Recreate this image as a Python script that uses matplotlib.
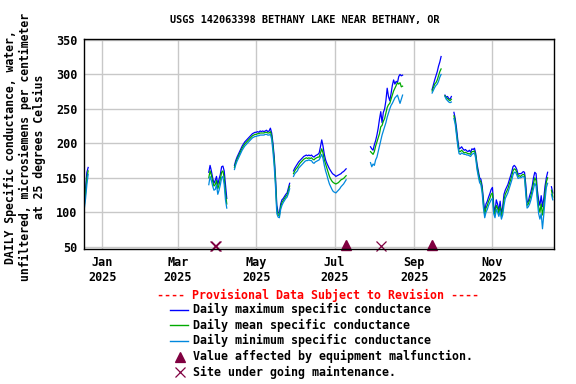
import numpy as np
import pandas as pd
import matplotlib
matplotlib.use("Agg")
import matplotlib.pyplot as plt
import matplotlib.dates as mdates
from matplotlib.lines import Line2D
from datetime import datetime

# daily records, one list per unbroken stretch of data
seg_start = ["2024-12-18", "2025-03-25", "2025-04-14", "2025-05-30",
             "2025-07-29", "2025-09-15", "2025-09-25", "2025-10-02", "2025-12-17"]

daily_max = [
    [115, 135, 158, 165],
    [158, 168, 160, 150, 142, 146, 152, 140, 148, 155, 166, 167, 160, 140, 120],
    [168, 175, 180, 184, 188, 192, 196, 199, 202, 204, 206, 208, 210, 212, 214, 215,
     216, 216, 217, 216, 218, 217, 218, 217, 218, 219, 217, 218, 222, 215, 200, 180,
     150, 110, 100, 98, 112, 118, 120, 123, 126, 128, 135, 142],
    [160, 164, 167, 170, 173, 175, 177, 179, 181, 182, 183, 182, 183, 182, 183, 181,
     180, 182, 183, 184, 186, 195, 205, 196, 184, 176, 171, 167, 163, 160, 157, 155,
     154, 152, 153, 154, 155, 156, 158, 159, 161, 163],
    [195, 192, 190, 198, 204, 212, 222, 235, 246, 230, 245, 250, 262, 280, 268, 262,
     272, 284, 292, 286, 290, 288, 297, 300, 298, 299],
    [278, 285, 292, 298, 304, 312, 318, 326],
    [270, 267, 268, 265, 264, 268],
    [245, 236, 222, 205, 192, 193, 195, 192, 190, 191, 189, 188, 190, 187, 192, 191,
     193, 185, 170, 160, 150, 148, 138, 118, 100, 112, 116, 122, 127, 133, 136, 110,
     100, 118, 112, 102, 116, 98, 108, 126, 132, 136, 140, 146, 152, 158, 166, 168,
     166, 162, 155, 156, 156, 157, 159, 158, 140, 114, 116, 124, 130, 138, 150, 158,
     156, 132, 118, 110, 124, 108, 120, 138, 150, 158],
    [137, 128],
]

daily_mean = [
    [110, 128, 150, 160],
    [150, 160, 154, 145, 138, 140, 146, 134, 140, 148, 158, 160, 150, 128, 112],
    [165, 172, 177, 181, 185, 189, 193, 196, 199, 201, 203, 205, 207, 209, 211, 212,
     213, 213, 214, 214, 215, 215, 215, 215, 216, 216, 215, 215, 217, 211, 195, 174,
     144, 104, 96, 95, 108, 114, 117, 120, 123, 125, 131, 138],
    [156, 160, 163, 165, 168, 171, 173, 175, 177, 178, 179, 178, 179, 178, 179, 177,
     176, 178, 179, 180, 180, 186, 192, 186, 176, 170, 164, 158, 152, 148, 145, 143,
     142, 141, 142, 143, 145, 147, 148, 149, 151, 153],
    [188, 186, 184, 188, 196, 202, 208, 214, 224, 226, 232, 236, 244, 252, 256, 258,
     264, 270, 276, 280, 284, 288, 286, 288, 282, 283],
    [276, 281, 286, 288, 292, 298, 304, 308],
    [269, 266, 265, 263, 262, 264],
    [240, 232, 216, 200, 188, 188, 190, 188, 186, 187, 186, 185, 185, 184, 188, 188,
     189, 182, 166, 156, 147, 144, 134, 112, 96, 106, 110, 116, 120, 126, 128, 104,
     96, 110, 106, 98, 108, 94, 102, 118, 126, 130, 134, 140, 146, 152, 160, 163,
     162, 158, 152, 153, 152, 154, 155, 154, 132, 110, 112, 118, 124, 132, 142, 150,
     146, 124, 108, 100, 112, 96, 108, 128, 144, 150],
    [132, 122],
]

daily_min = [
    [105, 120, 140, 155],
    [140, 152, 146, 138, 132, 133, 140, 126, 132, 140, 150, 152, 140, 118, 106],
    [162, 169, 174, 178, 182, 186, 190, 193, 196, 198, 200, 202, 204, 206, 208, 209,
     210, 210, 211, 211, 212, 212, 212, 212, 213, 213, 212, 212, 213, 206, 188, 166,
     136, 98, 93, 92, 104, 110, 114, 117, 120, 122, 127, 134],
    [152, 156, 158, 160, 164, 166, 168, 170, 172, 174, 175, 175, 176, 175, 175, 172,
     171, 173, 174, 175, 176, 180, 184, 178, 168, 160, 154, 147, 141, 137, 133, 130,
     129, 128, 130, 132, 134, 137, 139, 141, 144, 147],
    [172, 166, 170, 168, 176, 180, 188, 196, 204, 212, 218, 224, 230, 238, 244, 250,
     255, 258, 262, 266, 268, 270, 264, 258, 264, 270],
    [273, 277, 281, 284, 286, 290, 296, 300],
    [268, 264, 262, 260, 259, 260],
    [236, 228, 212, 196, 185, 184, 186, 185, 184, 184, 183, 183, 182, 181, 184, 185,
     186, 178, 162, 152, 143, 140, 128, 106, 92, 100, 104, 110, 114, 118, 120, 98,
     92, 104, 100, 94, 102, 90, 96, 110, 120, 124, 128, 134, 140, 146, 154, 158,
     158, 154, 149, 150, 150, 151, 152, 150, 126, 106, 108, 112, 118, 126, 134, 142,
     138, 116, 98, 90, 98, 76, 96, 118, 136, 142],
    [126, 118],
]

malfunction_dates = ["2025-07-10", "2025-09-15"]
maintenance_dates = ["2025-03-30", "2025-03-31", "2025-08-06"]

tick_dates = ["2025-01-01", "2025-03-01", "2025-05-01", "2025-07-01", "2025-09-01", "2025-11-01"]
tick_labels = ["Jan\n2025", "Mar\n2025", "May\n2025", "Jul\n2025", "Sep\n2025", "Nov\n2025"]
y_ticks = [50, 100, 150, 200, 250, 300, 350]

C_MAX = "#0000FF"
C_MEAN = "#00AA00"
C_MIN = "#0088DD"
C_MARK = "#800040"
FONT = "DejaVu Sans Mono"


def join_segments(segments):
    # concatenate stretches with a NaN between them so the line breaks
    xs, ys = [], []
    for start, vals in zip(seg_start, segments):
        d = pd.date_range(start, periods=len(vals), freq="D")
        xs.extend(list(d) + [d[-1] + pd.Timedelta(hours=12)])
        ys.extend(list(vals) + [np.nan])
    return xs, ys


fig = plt.figure(figsize=(5.76, 3.84), dpi=100)
ax = fig.add_axes([84.3 / 576, 1 - 249.3 / 384, 470 / 576, 210 / 384])

for series, col in [(daily_max, C_MAX), (daily_mean, C_MEAN), (daily_min, C_MIN)]:
    xs, ys = join_segments(series)
    ax.plot(xs, ys, color=col, lw=0.9)

ax.plot(pd.to_datetime(malfunction_dates), [52] * len(malfunction_dates),
        ls="none", marker="^", ms=7, color=C_MARK, clip_on=False)
ax.plot(pd.to_datetime(maintenance_dates), [50.5] * len(maintenance_dates),
        ls="none", marker="x", ms=6.5, mew=0.9, color=C_MARK, clip_on=False)

ax.set_xlim(datetime(2024, 12, 18), datetime(2025, 12, 19, 5))
ax.set_ylim(46.2, 351)
ax.set_xticks(pd.to_datetime(tick_dates))
ax.set_xticklabels(tick_labels)
ax.set_yticks(y_ticks)
ax.grid(True, color="#C8C8C8", lw=1.0)
ax.set_axisbelow(True)
ax.tick_params(length=0, pad=5, labelsize=8.5)
for lab in ax.get_xticklabels() + ax.get_yticklabels():
    lab.set_fontfamily(FONT)
    lab.set_fontweight("bold")
for sp in ax.spines.values():
    sp.set_linewidth(1.0)

fig.text(305 / 576, 1 - 20 / 384, "USGS 142063398 BETHANY LAKE NEAR BETHANY, OR",
         ha="center", va="center", fontsize=7.4, fontfamily=FONT, fontweight="bold")
fig.text(25 / 576, 1 - 147 / 384,
         "DAILY Specific conductance, water,\nunfiltered, microsiemens per centimeter\nat 25 degrees Celsius",
         rotation=90, ha="center", va="center", ma="center", linespacing=1.12,
         fontsize=8.3, fontfamily=FONT, fontweight="bold")

# legend block under the axes
fig.text(318 / 576, 1 - 295 / 384, "---- Provisional Data Subject to Revision ----",
         ha="center", va="center", color="red", fontsize=8.4, fontfamily=FONT, fontweight="bold")
entries = [
    ("line", C_MAX, "Daily maximum specific conductance"),
    ("line", C_MEAN, "Daily mean specific conductance"),
    ("line", C_MIN, "Daily minimum specific conductance"),
    ("^", C_MARK, "Value affected by equipment malfunction."),
    ("x", C_MARK, "Site under going maintenance."),
]
for i, (kind, col, text) in enumerate(entries):
    yf = 1 - (309.5 + 15.7 * i) / 384
    if kind == "line":
        fig.add_artist(Line2D([170 / 576, 188 / 576], [yf, yf], color=col, lw=1.0,
                              transform=fig.transFigure))
    else:
        fig.add_artist(Line2D([180 / 576], [yf], marker=kind, ls="none", color=col,
                              ms=7 if kind == "^" else 6.5, mew=0.9,
                              transform=fig.transFigure))
    fig.text(193 / 576, yf, text, ha="left", va="center", fontsize=8.4,
             fontfamily=FONT, fontweight="bold")

fig.savefig("out.png", dpi=100)
